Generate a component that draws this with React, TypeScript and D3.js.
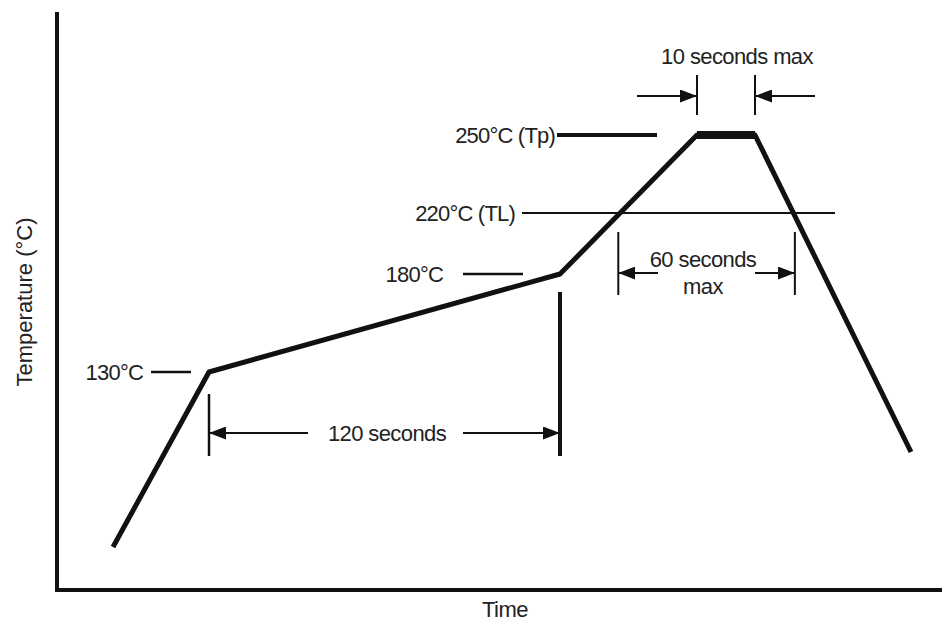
import React, { useRef, useEffect } from "react"
import * as d3 from "d3"

// reflow profile (time in s, temperature in °C) - schematic
const profileTime = [0, 33, 153, 200, 210, 300]
const profileTemp = [25, 130, 180, 250, 250, 82]

// reference temperature marks
const refTemps = [130, 180, 220, 250]
const refLabels = ["130°C", "180°C", "220°C (TL)", "250°C (Tp)"]

// timing spans
const spanLabels = ["120 seconds", "60 seconds max", "10 seconds max"]
const spanStart = [33, 173, 200]
const spanEnd = [153, 233, 210]

const W = 942
const H = 624
const FONT = "'Liberation Sans', Arial, sans-serif"

const App: React.FC = () => {
  const svgRef = useRef<SVGSVGElement | null>(null)

  useEffect(() => {
    const svg = d3.select(svgRef.current)
    svg.selectAll("*").remove()

    // the drawing is schematic, so both scales are piecewise
    const x = d3.scaleLinear()
      .domain([0, 33, 153, 200, 210, 300])
      .range([113, 209, 560, 697, 755, 911])
    const y = d3.scaleLinear()
      .domain([25, 130, 180, 220, 250])
      .range([547, 372, 274, 213, 135])

    const defs = svg.append("defs")
    defs.append("marker")
      .attr("id", "head")
      .attr("viewBox", "0 0 17 13")
      .attr("refX", 17)
      .attr("refY", 6.5)
      .attr("markerWidth", 17)
      .attr("markerHeight", 13)
      .attr("markerUnits", "userSpaceOnUse")
      .attr("orient", "auto")
      .append("path")
      .attr("d", "M0,0L17,6.5L0,13Z")
      .attr("fill", "#111")

    // AXES
    const axisLeft = 57, axisBottom = 590
    svg.append("path")
      .attr("d", `M${axisLeft},12V${axisBottom}H${W}`)
      .attr("fill", "none")
      .attr("stroke", "#111")
      .attr("stroke-width", 4)

    svg.append("text")
      .attr("transform", `translate(24,302) rotate(-90)`)
      .attr("text-anchor", "middle")
      .attr("dominant-baseline", "central")
      .attr("font-family", FONT)
      .attr("font-size", 22)
      .attr("fill", "#222")
      .text("Temperature (°C)")

    svg.append("text")
      .attr("x", 505)
      .attr("y", 609)
      .attr("text-anchor", "middle")
      .attr("dominant-baseline", "central")
      .attr("font-family", FONT)
      .attr("font-size", 22)
      .attr("letter-spacing", -0.5)
      .attr("fill", "#222")
      .text("Time")

    // REFERENCE TEMPERATURES (label end, leader start, leader end, width)
    const refLayout = [
      [143, 151, 191, 2.5],
      [443, 463, 523, 2.5],
      [515, 522, 835, 2],
      [555, 557, 657, 4],
    ]
    refTemps.forEach((t, i) => {
      const [tx, x1, x2, sw] = refLayout[i]
      svg.append("text")
        .attr("x", tx)
        .attr("y", y(t))
        .attr("text-anchor", "end")
        .attr("dominant-baseline", "central")
        .attr("font-family", FONT)
        .attr("font-size", 22)
        .attr("letter-spacing", -0.8)
        .attr("fill", "#222")
        .text(refLabels[i])
      svg.append("line")
        .attr("x1", x1).attr("x2", x2)
        .attr("y1", y(t)).attr("y2", y(t))
        .attr("stroke", "#111")
        .attr("stroke-width", sw)
    })

    // PROFILE
    const pts = profileTime.map((t, i) => [x(t), y(profileTemp[i])] as [number, number])
    svg.append("path")
      .attr("d", d3.line()(pts))
      .attr("fill", "none")
      .attr("stroke", "#111")
      .attr("stroke-width", 5)
      .attr("stroke-linejoin", "round")
    svg.append("line")
      .attr("x1", x(200)).attr("x2", x(210))
      .attr("y1", y(250)).attr("y2", y(250))
      .attr("stroke", "#111")
      .attr("stroke-width", 8)

    // SPANS: tick extents, arrow row, text row(s), arrow gaps
    const tick = (xx: number, y1: number, y2: number, sw: number) =>
      svg.append("line")
        .attr("x1", xx).attr("x2", xx)
        .attr("y1", y1).attr("y2", y2)
        .attr("stroke", "#111")
        .attr("stroke-width", sw)
    const arrow = (from: number, to: number, yy: number) =>
      svg.append("line")
        .attr("x1", from).attr("x2", to)
        .attr("y1", yy).attr("y2", yy)
        .attr("stroke", "#111")
        .attr("stroke-width", 2)
        .attr("marker-end", "url(#head)")
    const label = (txt: string, xx: number, yy: number) =>
      svg.append("text")
        .attr("x", xx)
        .attr("y", yy)
        .attr("text-anchor", "middle")
        .attr("dominant-baseline", "central")
        .attr("font-family", FONT)
        .attr("font-size", 22)
        .attr("letter-spacing", -0.6)
        .attr("fill", "#222")
        .text(txt)

    // 120 seconds
    const a0 = x(spanStart[0]), a1 = x(spanEnd[0])
    tick(a0, 394, 456, 2.5)
    tick(a1, 292, 456, 4)
    arrow(308, a0, 433)
    arrow(463, a1, 433)
    label(spanLabels[0], 387, 433)

    // 60 seconds max
    const b0 = x(spanStart[1]), b1 = x(spanEnd[1])
    tick(b0, 232, 295, 2)
    tick(b1, 232, 295, 2)
    arrow(658, b0, 273)
    arrow(755, b1, 273)
    const words = spanLabels[1].split(" ")
    label(words.slice(0, 2).join(" "), 703, 259)
    label(words[2], 703, 286)

    // 10 seconds max
    const c0 = x(spanStart[2]), c1 = x(spanEnd[2])
    tick(c0, 75, 115, 2)
    tick(c1, 75, 115, 2)
    arrow(637, c0, 96)
    arrow(815, c1, 96)
    label(spanLabels[2], 737, 56)
  }, [])

  return (
    <svg
      ref={svgRef}
      width={W}
      height={H}
      style={{ position: "absolute", left: 0, top: 0, background: "#fff" }}
    ></svg>
  )
}

export default App
